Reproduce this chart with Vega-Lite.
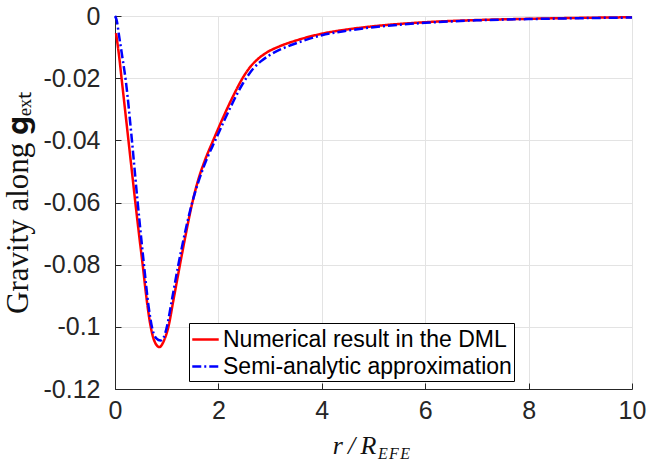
{
  "$schema": "https://vega.github.io/schema/vega-lite/v6.json",
  "width": 517,
  "height": 373,
  "autosize": {"type": "none"},
  "padding": {"left": 115, "top": 16, "right": 15, "bottom": 73},
  "background": "white",
  "config": {"view": {"stroke": null}, "font": "Liberation Sans"},
  "title": {"text": "E\u200aF\u200aE", "orient": "bottom", "anchor": "start", "frame": "group", "font": "Liberation Serif", "fontStyle": "italic", "fontWeight": "normal", "fontSize": 16, "color": "#111111", "dx": 263, "dy": -12, "offset": 0},
  "data": {"values": [
    {"r": 0.02, "g": -0.0055, "series": "Numerical result in the DML"},
    {"r": 0.08, "g": -0.013, "series": "Numerical result in the DML"},
    {"r": 0.13, "g": -0.0205, "series": "Numerical result in the DML"},
    {"r": 0.24, "g": -0.037, "series": "Numerical result in the DML"},
    {"r": 0.32, "g": -0.049, "series": "Numerical result in the DML"},
    {"r": 0.39, "g": -0.0595, "series": "Numerical result in the DML"},
    {"r": 0.47, "g": -0.071, "series": "Numerical result in the DML"},
    {"r": 0.535, "g": -0.080, "series": "Numerical result in the DML"},
    {"r": 0.60, "g": -0.0895, "series": "Numerical result in the DML"},
    {"r": 0.68, "g": -0.099, "series": "Numerical result in the DML"},
    {"r": 0.76, "g": -0.1045, "series": "Numerical result in the DML"},
    {"r": 0.86, "g": -0.1065, "series": "Numerical result in the DML"},
    {"r": 0.95, "g": -0.1043, "series": "Numerical result in the DML"},
    {"r": 1.03, "g": -0.1002, "series": "Numerical result in the DML"},
    {"r": 1.14, "g": -0.0905, "series": "Numerical result in the DML"},
    {"r": 1.24, "g": -0.0815, "series": "Numerical result in the DML"},
    {"r": 1.36, "g": -0.071, "series": "Numerical result in the DML"},
    {"r": 1.48, "g": -0.0612, "series": "Numerical result in the DML"},
    {"r": 1.61, "g": -0.0527, "series": "Numerical result in the DML"},
    {"r": 1.74, "g": -0.0464, "series": "Numerical result in the DML"},
    {"r": 1.90, "g": -0.040, "series": "Numerical result in the DML"},
    {"r": 2.05, "g": -0.0342, "series": "Numerical result in the DML"},
    {"r": 2.20, "g": -0.0287, "series": "Numerical result in the DML"},
    {"r": 2.32, "g": -0.0246, "series": "Numerical result in the DML"},
    {"r": 2.42, "g": -0.0214, "series": "Numerical result in the DML"},
    {"r": 2.52, "g": -0.0186, "series": "Numerical result in the DML"},
    {"r": 2.63, "g": -0.0161, "series": "Numerical result in the DML"},
    {"r": 2.76, "g": -0.0139, "series": "Numerical result in the DML"},
    {"r": 2.92, "g": -0.0119, "series": "Numerical result in the DML"},
    {"r": 3.19, "g": -0.0097, "series": "Numerical result in the DML"},
    {"r": 3.5, "g": -0.0079, "series": "Numerical result in the DML"},
    {"r": 4.0, "g": -0.0057, "series": "Numerical result in the DML"},
    {"r": 4.5, "g": -0.0043, "series": "Numerical result in the DML"},
    {"r": 5.0, "g": -0.0033, "series": "Numerical result in the DML"},
    {"r": 6.0, "g": -0.002, "series": "Numerical result in the DML"},
    {"r": 7.0, "g": -0.0013, "series": "Numerical result in the DML"},
    {"r": 8.0, "g": -0.0009, "series": "Numerical result in the DML"},
    {"r": 9.0, "g": -0.0006, "series": "Numerical result in the DML"},
    {"r": 10.0, "g": -0.0004, "series": "Numerical result in the DML"},
    {"r": 0.0, "g": 0.0, "series": "Semi-analytic approximation"},
    {"r": 0.03, "g": -0.0012, "series": "Semi-analytic approximation"},
    {"r": 0.08, "g": -0.0065, "series": "Semi-analytic approximation"},
    {"r": 0.14, "g": -0.013, "series": "Semi-analytic approximation"},
    {"r": 0.21, "g": -0.021, "series": "Semi-analytic approximation"},
    {"r": 0.31, "g": -0.037, "series": "Semi-analytic approximation"},
    {"r": 0.43, "g": -0.0585, "series": "Semi-analytic approximation"},
    {"r": 0.56, "g": -0.080, "series": "Semi-analytic approximation"},
    {"r": 0.65, "g": -0.0935, "series": "Semi-analytic approximation"},
    {"r": 0.72, "g": -0.1005, "series": "Semi-analytic approximation"},
    {"r": 0.80, "g": -0.1037, "series": "Semi-analytic approximation"},
    {"r": 0.88, "g": -0.1044, "series": "Semi-analytic approximation"},
    {"r": 0.94, "g": -0.1035, "series": "Semi-analytic approximation"},
    {"r": 1.00, "g": -0.1002, "series": "Semi-analytic approximation"},
    {"r": 1.11, "g": -0.0905, "series": "Semi-analytic approximation"},
    {"r": 1.22, "g": -0.0805, "series": "Semi-analytic approximation"},
    {"r": 1.35, "g": -0.070, "series": "Semi-analytic approximation"},
    {"r": 1.49, "g": -0.0602, "series": "Semi-analytic approximation"},
    {"r": 1.63, "g": -0.0525, "series": "Semi-analytic approximation"},
    {"r": 1.78, "g": -0.0458, "series": "Semi-analytic approximation"},
    {"r": 1.94, "g": -0.040, "series": "Semi-analytic approximation"},
    {"r": 2.10, "g": -0.0341, "series": "Semi-analytic approximation"},
    {"r": 2.25, "g": -0.0288, "series": "Semi-analytic approximation"},
    {"r": 2.37, "g": -0.0248, "series": "Semi-analytic approximation"},
    {"r": 2.47, "g": -0.0218, "series": "Semi-analytic approximation"},
    {"r": 2.57, "g": -0.0192, "series": "Semi-analytic approximation"},
    {"r": 2.68, "g": -0.0168, "series": "Semi-analytic approximation"},
    {"r": 2.82, "g": -0.0146, "series": "Semi-analytic approximation"},
    {"r": 2.98, "g": -0.0127, "series": "Semi-analytic approximation"},
    {"r": 3.25, "g": -0.0104, "series": "Semi-analytic approximation"},
    {"r": 3.55, "g": -0.0085, "series": "Semi-analytic approximation"},
    {"r": 4.0, "g": -0.0062, "series": "Semi-analytic approximation"},
    {"r": 4.5, "g": -0.0047, "series": "Semi-analytic approximation"},
    {"r": 5.0, "g": -0.0036, "series": "Semi-analytic approximation"},
    {"r": 6.0, "g": -0.0022, "series": "Semi-analytic approximation"},
    {"r": 7.0, "g": -0.0014, "series": "Semi-analytic approximation"},
    {"r": 8.0, "g": -0.001, "series": "Semi-analytic approximation"},
    {"r": 9.0, "g": -0.0007, "series": "Semi-analytic approximation"},
    {"r": 10.0, "g": -0.0005, "series": "Semi-analytic approximation"}
  ]},
  "mark": {"type": "line", "strokeWidth": 2.5, "interpolate": "monotone"},
  "encoding": {
    "x": {
      "field": "r", "type": "quantitative",
      "scale": {"domain": [0, 10], "nice": false, "zero": false},
      "axis": {
        "values": [0, 2, 4, 6, 8, 10],
        "title": "r\u2009/\u2009R",
        "titleFont": "Liberation Serif", "titleFontStyle": "italic", "titleFontWeight": "normal", "titleFontSize": 26,
        "titleColor": "#111111", "titleBaseline": "alphabetic", "titleAlign": "center",
        "titleX": 239, "titleY": 64,
        "labelFont": "Liberation Sans", "labelFontSize": 25, "labelColor": "#262626", "labelPadding": 15,
        "labelFlush": false, "labelOverlap": false,
        "domainColor": "#262626", "tickColor": "#262626", "tickSize": -6,
        "grid": true, "gridColor": "#e3e3e3", "gridWidth": 1
      }
    },
    "y": {
      "field": "g", "type": "quantitative",
      "scale": {"domain": [-0.12, 0], "nice": false, "zero": false},
      "axis": {
        "values": [0, -0.02, -0.04, -0.06, -0.08, -0.1, -0.12],
        "labelExpr": "datum.value == 0 ? '0' : '-' + format(-datum.value, '')",
        "title": "Gravity along 𝐠ₑₓₜ",
        "titleFont": "Liberation Serif", "titleFontWeight": "normal", "titleFontSize": 31,
        "titleColor": "#111111", "titlePadding": 9,
        "labelFont": "Liberation Sans", "labelFontSize": 25, "labelColor": "#262626", "labelPadding": 21,
        "labelFlush": false, "labelOverlap": false,
        "domainColor": "#262626", "tickColor": "#262626", "tickSize": -6,
        "grid": true, "gridColor": "#e3e3e3", "gridWidth": 1
      }
    },
    "color": {
      "field": "series", "type": "nominal",
      "scale": {"domain": ["Numerical result in the DML", "Semi-analytic approximation"], "range": ["#ff0000", "#0000ff"]},
      "legend": {
        "orient": "none", "legendX": 74, "legendY": 307, "title": null,
        "labelFont": "Liberation Sans", "labelFontSize": 23, "labelColor": "#000000", "labelOffset": 3, "labelLimit": 500,
        "labelExpr": "datum.label + '\u2003\u2003'",
        "symbolType": "stroke", "symbolSize": 700, "symbolStrokeWidth": 2.5,
        "strokeColor": "#000000", "fillColor": "#ffffff", "padding": 2, "rowPadding": 0
      }
    },
    "strokeDash": {
      "field": "series", "type": "nominal",
      "scale": {"domain": ["Numerical result in the DML", "Semi-analytic approximation"], "range": [[1, 0], [9, 3, 2, 3]]},
      "legend": {
        "orient": "none", "legendX": 74, "legendY": 307, "title": null,
        "labelFont": "Liberation Sans", "labelFontSize": 23, "labelColor": "#000000", "labelOffset": 3, "labelLimit": 500,
        "labelExpr": "datum.label + '\u2003\u2003'",
        "symbolType": "stroke", "symbolSize": 700, "symbolStrokeWidth": 2.5,
        "strokeColor": "#000000", "fillColor": "#ffffff", "padding": 2, "rowPadding": 0
      }
    }
  }
}
